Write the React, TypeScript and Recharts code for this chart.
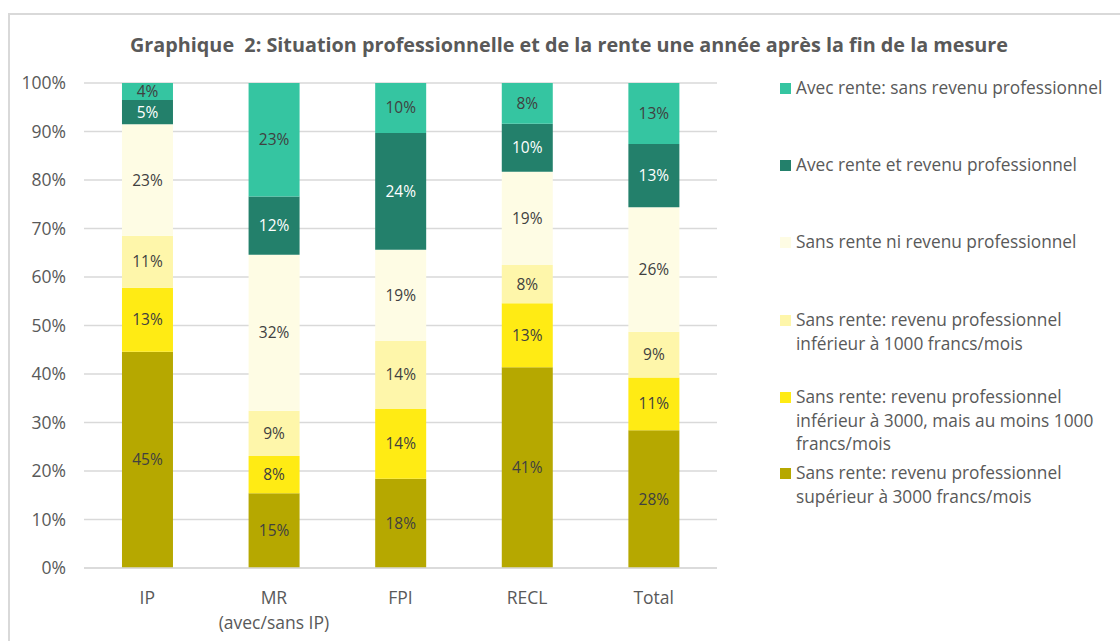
import React from "react";
import { BarChart, Bar, XAxis, YAxis, CartesianGrid, LabelList } from "recharts";

const categories = ["IP", "MR\n(avec/sans IP)", "FPI", "RECL", "Total"];
const superieur3000 = [44.6, 15.4, 18.4, 41.4, 28.4];
const entre1000et3000 = [13.2, 7.7, 14.4, 13.2, 10.9];
const inferieur1000 = [10.7, 9.3, 14.0, 7.9, 9.4];
const sansRenteNiRevenu = [23.0, 32.2, 18.8, 19.2, 25.7];
const avecRenteEtRevenu = [5.0, 12.0, 24.1, 9.9, 13.0];
const avecRenteSansRevenu = [3.5, 23.4, 10.3, 8.4, 12.6];
const yTicks = [0, 10, 20, 30, 40, 50, 60, 70, 80, 90, 100];
const title = "Graphique  2: Situation professionnelle et de la rente une année après la fin de la mesure";

const series = [
  { key: "s1", values: superieur3000, name: "Sans rente: revenu professionnel\nsupérieur à 3000 francs/mois", color: "#B6A800", text: "#404040" },
  { key: "s2", values: entre1000et3000, name: "Sans rente: revenu professionnel\ninférieur à 3000, mais au moins 1000\nfrancs/mois", color: "#FFEB14", text: "#404040" },
  { key: "s3", values: inferieur1000, name: "Sans rente: revenu professionnel\ninférieur à 1000 francs/mois", color: "#FEF6AA", text: "#404040" },
  { key: "s4", values: sansRenteNiRevenu, name: "Sans rente ni revenu professionnel", color: "#FEFCE4", text: "#404040" },
  { key: "s5", values: avecRenteEtRevenu, name: "Avec rente et revenu professionnel", color: "#23806B", text: "#FFFFFF" },
  { key: "s6", values: avecRenteSansRevenu, name: "Avec rente: sans revenu professionnel", color: "#35C5A1", text: "#404040" },
];

const data = categories.map((c, i) => {
  const row: any = { cat: c };
  series.forEach((s) => (row[s.key] = s.values[i]));
  return row;
});

const FONT = "'Open Sans', sans-serif";
const GREY = "#595959";

const XTick = (props: any) => {
  const { x, y, payload } = props;
  const lines = String(payload.value).split("\n");
  return (
    <g transform={`translate(${x},${y})`}>
      {lines.map((l: string, i: number) => (
        <text key={i} x={0} y={i * 25} textAnchor="middle" fill={GREY} fontSize={17.5} fontFamily={FONT} dominantBaseline="central">
          {l}
        </text>
      ))}
    </g>
  );
};

const legendTops = [76, 153, 230, 308, 385, 461];

const LegendBlock = () => {
  const items = [...series].reverse();
  return (
    <div style={{ position: "absolute", left: 780, top: 0, width: 340, height: 641 }}>
      {items.map((s, i) => (
        <div key={s.key} style={{ position: "absolute", left: 0, top: legendTops[i], display: "flex", alignItems: "flex-start", width: 340 }}>
          <div style={{ width: 11, height: 11, background: s.color, marginTop: 7, marginRight: 5, flex: "none" }} />
          <div style={{ whiteSpace: "pre", fontFamily: FONT, fontSize: 17.3, color: GREY, lineHeight: "23.5px" }}>{s.name}</div>
        </div>
      ))}
    </div>
  );
};

export default function App() {
  return (
    <div style={{ position: "absolute", left: 0, top: 0, width: 1120, height: 641, background: "#fff", overflow: "hidden" }}>
      <div style={{ position: "absolute", left: 8, top: 13, width: 1200, height: 700, border: "2px solid #D9D9D9", boxSizing: "border-box" }} />
      <div style={{ position: "absolute", left: 0, top: 32, width: 1138, textAlign: "center", fontFamily: FONT, fontWeight: 700, fontSize: 19.8, color: GREY, whiteSpace: "pre", lineHeight: "26px" }}>
        {title}
      </div>
      <div style={{ position: "absolute", left: 0, top: 0 }}>
        <BarChart width={1120} height={641} data={data} margin={{ top: 83, right: 403, bottom: 0, left: 0 }} barCategoryGap="30%">
          <CartesianGrid vertical={false} stroke="#D9D9D9" strokeWidth={1.5} />
          <XAxis dataKey="cat" tick={<XTick />} tickLine={false} axisLine={{ stroke: "#D9D9D9", strokeWidth: 1.5 }} height={73} interval={0} tickMargin={0} tickSize={29} />
          <YAxis width={84} domain={[0, 100]} ticks={yTicks} tickFormatter={(v: number) => `${v}%`} tick={{ fill: GREY, fontSize: 17.5, fontFamily: FONT }} tickLine={false} axisLine={false} tickSize={0} tickMargin={18} />
          {series.map((s) => (
            <Bar key={s.key} dataKey={s.key} name={s.name} stackId="a" fill={s.color} isAnimationActive={false}>
              <LabelList dataKey={s.key} position="center" formatter={(v: any) => `${Math.round(Number(v))}%`} fill={s.text} fontSize={15.5} fontFamily={FONT} />
            </Bar>
          ))}
        </BarChart>
      </div>
      <LegendBlock />
    </div>
  );
}
